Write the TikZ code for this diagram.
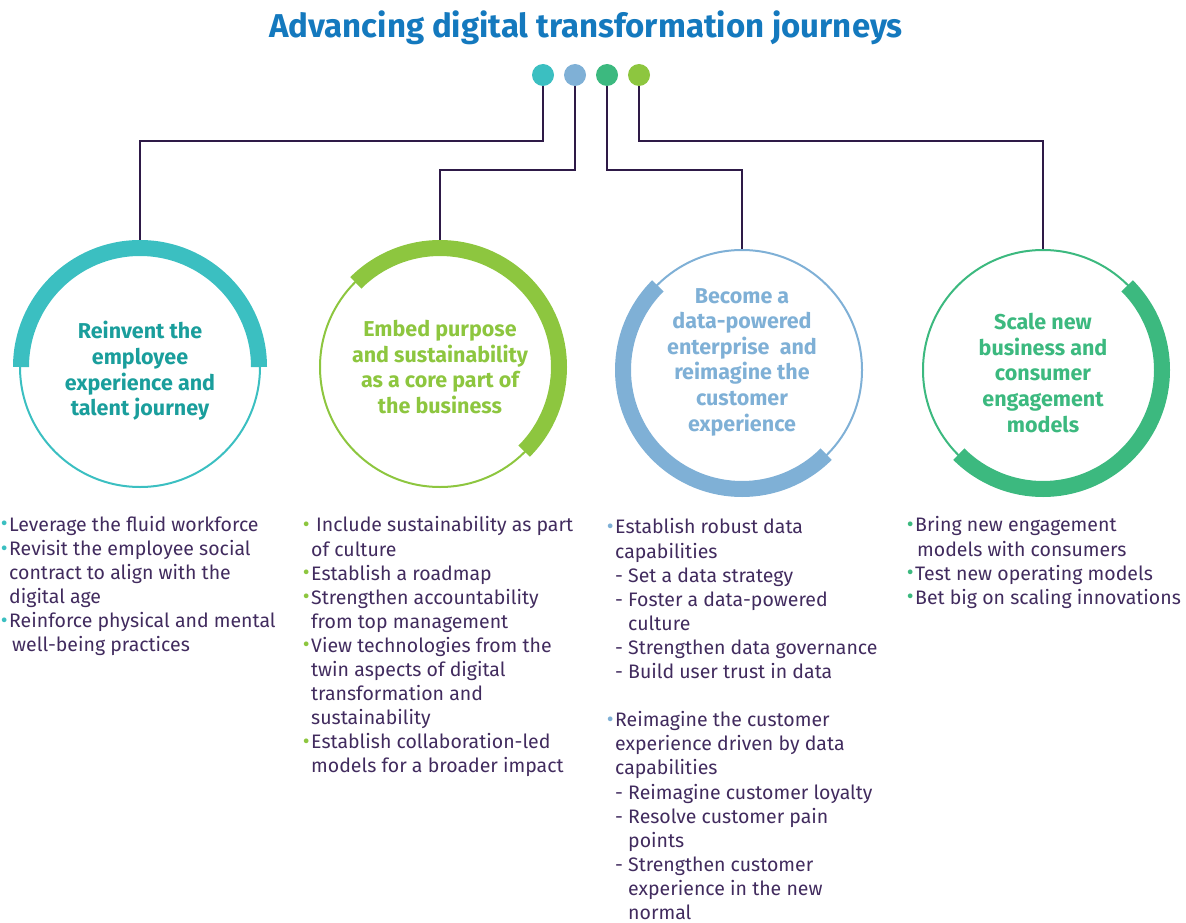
\documentclass[tikz,border=0pt]{standalone}
\usepackage{fontspec}
\setmainfont{Fira Sans}
\definecolor{titleblue}{HTML}{1479BE}
\definecolor{linkcol}{HTML}{2E1A47}
\definecolor{bodytext}{HTML}{412B5E}
\definecolor{cteal}{HTML}{3BBFC1}
\definecolor{ctealtext}{HTML}{1A9E9C}
\definecolor{clime}{HTML}{8DC63F}
\definecolor{cblue}{HTML}{7FB0D6}
\definecolor{cgreen}{HTML}{3CB97F}
\newcommand\ringfont{\bfseries\fontsize{21.5}{25.6}\selectfont}
\newcommand\itemfont{\fontsize{19.5}{24.1}\selectfont}
\newcommand\bul[1]{\makebox[0pt][r]{\textcolor{#1}{\raisebox{0.05ex}{\fontsize{21}{21}\selectfont\textbullet}}\hspace{1.5pt}}}

\begin{document}
\begin{tikzpicture}[x=1pt,y=1pt,
    dot/.style={circle, fill=#1, minimum size=22, inner sep=0pt},
    ring/.style={circle, draw=#1, line width=2pt, minimum size=240, inner sep=0pt},
    ringtext/.style={text=#1, align=center, font=\ringfont, inner sep=0pt},
    link/.style={draw=linkcol, line width=2.2pt},
    band/.style={draw=#1, line width=16pt},
    items/.style={anchor=north west, inner sep=0pt, align=left, font=\itemfont, text=bodytext}]
    \useasboundingbox (0,0) rectangle (1186,-923);
    % title
    \node[font=\bfseries\fontsize{33}{36}\selectfont, text=titleblue] (title) at (586,-28) {Advancing digital transformation journeys};
    % dots
    \node[dot=cteal] (d1) at (543,-75) {};
    \node[dot=cblue] (d2) at (575,-75) {};
    \node[dot=cgreen] (d3) at (607,-75) {};
    \node[dot=clime] (d4) at (639,-75) {};
    % rings
    \node[ring=cteal] (c1) at (140,-367) {};
    \node[ring=clime] (c2) at (440,-367) {};
    \node[ring=cblue] (c3) at (742,-370) {};
    \node[ring=cgreen] (c4) at (1043,-370) {};
    \node[ringtext=ctealtext] (t1) at ([yshift=-4]c1.center) {Reinvent the\\employee\\experience and\\talent journey};
    \node[ringtext=clime] (t2) at (c2.center) {Embed purpose\\and sustainability\\as a core part of\\the business};
    \node[ringtext=cblue] (t3) at ([yshift=8]c3.center) {Become a\\data-powered\\enterprise~ and\\reimagine the\\customer\\experience};
    \node[ringtext=cgreen] (t4) at ([yshift=-3]c4.center) {Scale new\\business and\\consumer\\engagement\\models};
    % connectors
    \draw[link] (d1) |- (c1.north |- 0,-141) -- (c1.north);
    \draw[link] (d2) |- (c2.north |- 0,-170) -- (c2.north);
    \draw[link] (d3) |- (c3.north |- 0,-170) -- (c3.north);
    \draw[link] (d4) |- (c4.north |- 0,-141) -- (c4.north);
    % thick bands
    \draw[band=cteal] ([shift={(180:119)}]c1.center) arc[start angle=180, end angle=0, radius=119];
    \draw[band=clime] ([shift={(135:119)}]c2.center) arc[start angle=135, end angle=-45, radius=119];
    \draw[band=cblue] ([shift={(135:119)}]c3.center) arc[start angle=135, end angle=315, radius=119];
    \draw[band=cgreen] ([shift={(45:119)}]c4.center) arc[start angle=45, end angle=-135, radius=119];
    % lists
    \node[items] (l1) at (9,-516) {\bul{cteal}Leverage the fluid workforce\\
        \bul{cteal}Revisit the employee social\\
        contract to align with the\\
        digital age\\
        \bul{cteal}Reinforce physical and mental\\
        \hspace{3pt}well-being practices};
    \node[items] (l2) at (311,-516.5) {\bul{clime}\hspace{5pt}Include sustainability as part\\
        of culture\\
        \bul{clime}Establish a roadmap\\
        \bul{clime}Strengthen accountability\\
        from top management\\
        \bul{clime}View technologies from the\\
        twin aspects of digital\\
        transformation and\\
        sustainability\\
        \bul{clime}Establish collaboration-led\\
        models for a broader impact};
    \node[items] (l3) at (615,-518.5) {\bul{cblue}Establish robust data\\
        capabilities\\
        - Set a data strategy\\
        - Foster a data-powered\\
        \hphantom{- }culture\\
        - Strengthen data governance\\
        - Build user trust in data\\
        \mbox{}\\
        \bul{cblue}Reimagine the customer\\
        experience driven by data\\
        capabilities\\
        - Reimagine customer loyalty\\
        - Resolve customer pain\\
        \hphantom{- }points\\
        - Strengthen customer\\
        \hphantom{- }experience in the new\\
        \hphantom{- }normal};
    \node[items] (l4) at (915,-516.5) {\bul{cgreen}Bring new engagement\\
        \hspace{2pt}models with consumers\\
        \bul{cgreen}Test new operating models\\
        \bul{cgreen}Bet big on scaling innovations};
\end{tikzpicture}
\end{document}
